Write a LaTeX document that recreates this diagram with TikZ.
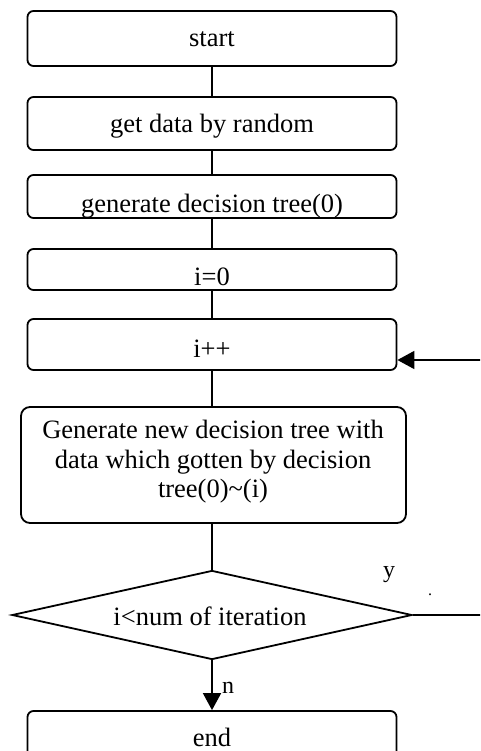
\documentclass[tikz,border=0pt]{standalone}
\usepackage{fontspec}
\setmainfont{Liberation Serif}
\usetikzlibrary{shapes.geometric,arrows.meta}
\begin{document}
\begin{tikzpicture}[x=1pt,y=-1pt,
  line width=1.8pt,
  stepbox/.style={draw,rounded corners=6pt,inner sep=0pt,minimum width=369pt},
  bigbox/.style={draw,rounded corners=9pt,inner sep=0pt},
  decision/.style={draw,diamond,inner sep=0pt,minimum width=400pt,minimum height=89pt},
  txt/.style={anchor=base,inner sep=0pt,font=\fontsize{26.5}{30}\selectfont},
  lbl/.style={anchor=base,inner sep=0pt,font=\fontsize{24}{28}\selectfont},
  arr/.style={-{Triangle[length=17pt,width=18pt]}}]
\useasboundingbox (0,0) rectangle (480,751);
\clip (0,0) rectangle (480,751);

% process boxes
\node[stepbox,minimum height=55pt] (b1) at (212,38.5) {};
\node[stepbox,minimum height=53pt] (b2) at (212,123.5) {};
\node[stepbox,minimum height=43pt] (b3) at (212,196.5) {};
\node[stepbox,minimum height=41pt] (b4) at (212,269.5) {};
\node[stepbox,minimum height=51pt] (b5) at (212,344.5) {};
\node[bigbox,minimum width=385pt,minimum height=116pt] (b6) at (213.5,465) {};
\node[decision] (dia) at (212,615) {};
\node[stepbox,minimum height=60pt] (b7) at (212,741) {};

% box texts
\node[txt] (t1) at (212,47) {start};
\node[txt] (t2) at (212,133) {get data by random};
\node[txt] (t3) at (212,212) {generate decision tree(0)};
\node[txt] (t4) at (212,285) {i=0};
\node[txt] (t5) at (212,357) {i++};
\node[txt] (t6a) at (213,438) {Generate new decision tree with};
\node[txt] (t6b) at (213,468) {data which gotten by decision};
\node[txt] (t6c) at (213,497) {tree(0)\textasciitilde(i)};
\node[txt] (t7) at (210,625) {i<num of iteration};
\node[txt] (t8) at (212,746) {end};

% branch labels
\node[lbl] (ly) at (389,577) {y};
\node[lbl] (ln) at (228,693) {n};
\node[anchor=base,inner sep=0pt,font=\fontsize{16}{18}\selectfont] (dot) at (430,595) {.};

% connectors
\draw (b1.south) -- (b2.north);
\draw (b2.south) -- (b3.north);
\draw (b3.south) -- (b4.north);
\draw (b4.south) -- (b5.north);
\draw (b5.south) -- (b5.south |- b6.north);
\draw (dia.north |- b6.south) -- (dia.north);
\draw[arr] (dia.south) -- (b7.north);

% loop back on the right edge
\coordinate (loopin) at (482,360);
\coordinate (loopout) at (482,615);
\draw (dia.east) -- (loopout);
\draw[arr] (loopin) -- (loopin -| b5.east);
\end{tikzpicture}
\end{document}
